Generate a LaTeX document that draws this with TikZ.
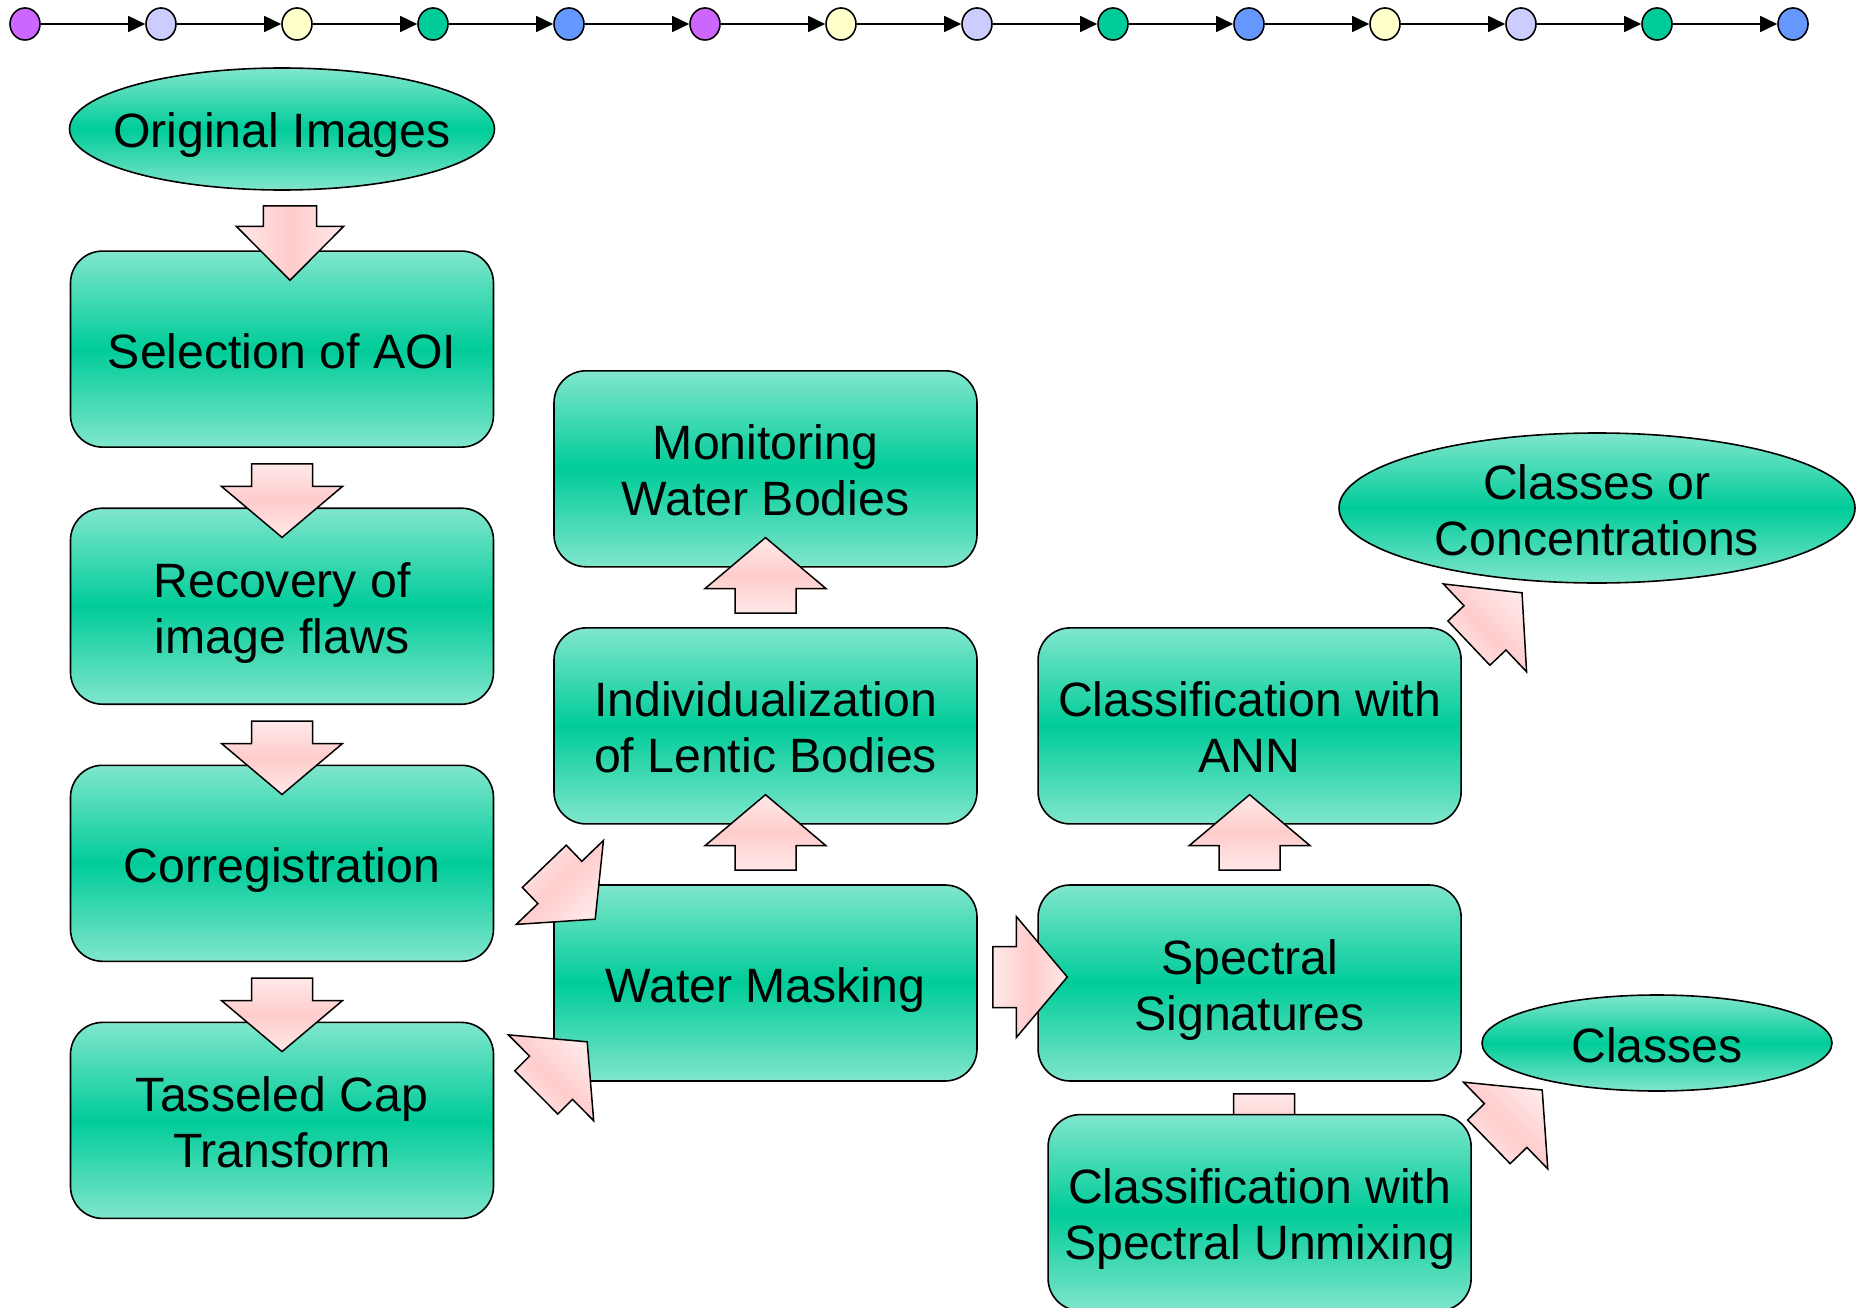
\documentclass[tikz,border=0pt]{standalone}
\usepackage{fontspec}
\setmainfont{Liberation Sans}
\usetikzlibrary{shapes.geometric, arrows.meta, positioning, calc}
\definecolor{boxgreen}{HTML}{00CC99}
\definecolor{boxlight}{HTML}{80E6CC}
\definecolor{arrpink}{HTML}{FFCCCC}
\definecolor{arrlight}{HTML}{FFE8E8}
\definecolor{dotpurple}{HTML}{CC66FF}
\definecolor{dotlilac}{HTML}{CCCCFF}
\definecolor{dotyellow}{HTML}{FFFFCC}
\definecolor{dotblue}{HTML}{6699FF}

% fat block arrow: [options]{tail}{tip}
\newcommand{\fatshaft}{30.5pt}
\newcommand{\fathead}{60.5pt}
\newcommand{\fatlength}{51pt}
\newcommand{\fatarrow}[3][]{%
  \coordinate (fa-tail) at #2;
  \coordinate (fa-tip) at #3;
  \coordinate (fa-base) at ($(fa-tip)!\fatlength!(fa-tail)$);
  \path[fat, #1] ($(fa-tail)!\fatshaft!90:(fa-tip)$)
    -- ($(fa-base)!\fatshaft!90:(fa-tip)$) -- ($(fa-base)!\fathead!90:(fa-tip)$)
    -- (fa-tip)
    -- ($(fa-base)!\fathead!-90:(fa-tip)$) -- ($(fa-base)!\fatshaft!-90:(fa-tip)$)
    -- ($(fa-tail)!\fatshaft!-90:(fa-tip)$) -- cycle;}

\begin{document}
\begin{tikzpicture}[x=1pt, y=-1pt,
    node distance = 59.5pt,
    stage/.style  = {draw, line width=1.6pt, rounded corners=32pt,
                     minimum width=423pt, minimum height=196pt,
                     inner sep=0pt, align=center,
                     top color=boxlight, bottom color=boxlight,
                     middle color=boxgreen,
                     font=\fontsize{48.2}{56}\selectfont,
                     text height=50pt, text depth=12pt},
    twoline/.style = {text height=106pt},
    result/.style = {stage, ellipse, inner sep=-30pt},
    fat/.style    = {draw, line width=1.5pt, top color=arrlight,
                     bottom color=arrlight, middle color=arrpink},
    dot/.style    = {draw, ellipse, line width=1.6pt, minimum width=30pt,
                     minimum height=32pt, inner sep=0pt},
    chain/.style  = {-{Triangle[length=17pt, width=16pt]}, line width=1.6pt}
  ]
  \useasboundingbox (0,0) rectangle (1860,1308);

  % colour chain on top
  \foreach \col [count=\i] in {dotpurple, dotlilac, dotyellow, boxgreen,
      dotblue, dotpurple, dotyellow, dotlilac, boxgreen, dotblue,
      dotyellow, dotlilac, boxgreen, dotblue}
    \node[dot, fill=\col] (d\i) at ({25+136*(\i-1)},24) {};
  \foreach \i [evaluate=\i as \j using int(\i+1)] in {1,...,13}
    \draw[chain] (d\i) -- (d\j);

  % preprocessing column
  \node[result, minimum width=425pt, minimum height=122pt] (orig)
        at (282,129) {Original Images};
  \node[stage, below=of orig]           (aoi)    {Selection of AOI};
  \node[stage, twoline, below=of aoi]   (flaws)  {Recovery of\\image flaws};
  \node[stage, below=of flaws]          (coreg)  {Corregistration};
  \node[stage, twoline, below=of coreg] (tascap) {Tasseled Cap\\Transform};

  % water bodies column
  \node[stage] (mask) at (765.5,983) {Water Masking};
  \node[stage, twoline, above=of mask]   (lentic)
        {Individualization\\of Lentic Bodies};
  \node[stage, twoline, above=of lentic] (monitor) {Monitoring\\Water Bodies};

  % classification column
  \node[stage, twoline, right=of mask]   (signat) {Spectral\\Signatures};
  \node[stage, twoline, above=of signat] (ann)    {Classification with\\ANN};
  \node[result, twoline, minimum width=516pt, minimum height=150pt] (conc)
        at (1597,508) {Classes or\\Concentrations};
  \node[result, minimum width=350pt, minimum height=96pt] (classes)
        at (1657,1043) {Classes};

  \fatarrow{($(signat.south)+(14.5,12)$)}{($(signat.south)+(14.5,87)$)}
  \node[stage, twoline, below=32pt of signat, xshift=10pt] (unmix)
        {Classification with\\Spectral Unmixing};

  % block arrows
  {\renewcommand{\fatshaft}{26.7pt}\renewcommand{\fathead}{53.7pt}%
   \renewcommand{\fatlength}{54pt}%
   \fatarrow[shading angle=90]{($(orig.south)+(8,15)$)}{($(aoi.north)+(8,30)$)}}
  \foreach \a/\b in {aoi/flaws, flaws/coreg, coreg/tascap}
    \fatarrow{($(\a.south)+(0,16)$)}{($(\b.north)+(0,30)$)};
  \foreach \a/\b in {mask/lentic, lentic/monitor, signat/ann}
    \fatarrow{($(\a.north)+(0,-14)$)}{($(\b.south)+(0,-30)$)};
  \fatarrow[shading angle=45]{($(coreg.east)+(50,3)$)}{($(mask.north west)+(42,35)$)}
  \fatarrow[shading angle=-45]{($(tascap.east)+(42,-28)$)}{($(mask.south west)+(34,-40)$)}
  \fatarrow[shading angle=90]{($(mask.east)+(15,-6)$)}{($(signat.west)+(30,-6)$)}
  \fatarrow[shading angle=-45]{($(ann.north east)+(7,16)$)}{($(conc.south)+(-75,9)$)}
  \fatarrow[shading angle=-45]{($(unmix.north east)+(17,28)$)}{($(classes.west)+(61,47)$)}
\end{tikzpicture}
\end{document}
